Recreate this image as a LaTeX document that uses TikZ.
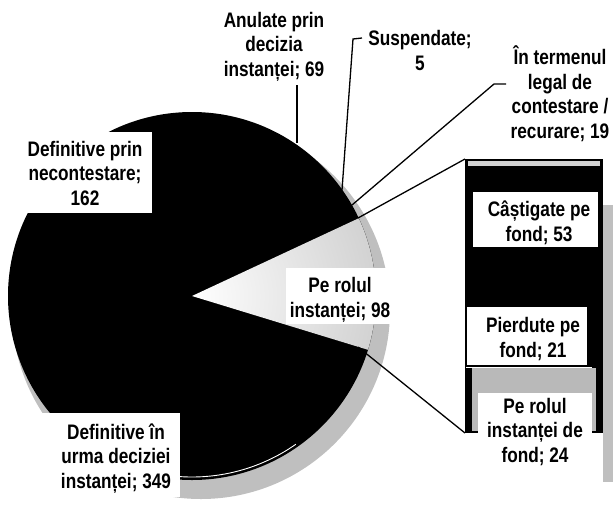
\documentclass[tikz,border=0pt]{standalone}
\usepackage{fontspec}
\setmainfont{Liberation Sans}[FakeStretch=0.82]
\begin{document}
\begin{tikzpicture}[x=1pt,y=-1pt,
  lab/.style={font=\bfseries\fontsize{21}{24.5}\selectfont, align=center, inner sep=0pt, anchor=base},
  leader/.style={line width=1.3pt, black},
  shadowc/.style={fill=gray!50},
  wbox/.style={fill=white}]
\useasboundingbox (0,0) rectangle (613,507);
\coordinate (c) at (192,296);
% shadows
\fill[shadowc] (201,310) circle[radius=189];
\fill[shadowc] (603,205) rectangle (613,482);
% pie
\fill[black] (c) circle[radius=184];
\begin{scope}
  \clip (c) -- ++(-25:184) arc[start angle=-25,end angle=17,radius=184] -- cycle;
  \shade[inner color=white, outer color=gray!70] (c) circle[radius=368];
\end{scope}
\draw[white, line width=0.9pt] (c) ++(94:181) arc[start angle=94,end angle=55,radius=181];
% bar
\fill[black] (465,159) rectangle (603,433);
\fill[gray!35] (468,161) rectangle (600,166);
\fill[gray!55] (472,368) rectangle (596,431);
\draw[white, line width=1pt] (466,367) -- (592,367);
% label boxes
\fill[wbox] (286,268) rectangle (400,324);
\fill[wbox] (17,132) rectangle (152,213);
\fill[wbox] (40,413) rectangle (180,497);
\fill[wbox] (473,192) rectangle (598,247);
\fill[wbox] (467,307) rectangle (587,365);
\fill[wbox] (478,393) rectangle (592,473);
% labels (anchor base = last line)
\node[lab] (anul) at (274,76) {Anulate prin\\decizia\\instanței; 69};
\node[lab] (susp) at (420,70) {Suspendate;\\5};
\node[lab] (term) at (560,138) {În termenul\\legal de\\contestare /\\recurare; 19};
\node[lab] (defn) at (85,205) {Definitive prin\\necontestare;\\162};
\node[lab] (defi) at (116,488) {Definitive în\\urma deciziei\\instanței; 349};
\node[lab] (perol) at (340,317) {Pe rolul\\instanței; 98};
\node[lab] (cast) at (539,241) {Câștigate pe\\fond; 53};
\node[lab] (pierd) at (533,357) {Pierdute pe\\fond; 21};
\node[lab] (pfond) at (535,462) {Pe rolul\\instanței de\\fond; 24};
% leader lines
\coordinate (anulA) at (297,85);
\coordinate (anulB) at (297,143);
\coordinate (suspA) at (362,38);
\coordinate (suspB) at (353,39);
\coordinate (suspC) at (342,190);
\coordinate (termA) at (506,84);
\coordinate (termB) at (494,84);
\coordinate (termC) at (352,205);
\coordinate (wedgeT) at (358,218);
\coordinate (wedgeB) at (358,347);
\coordinate (barTL) at (465,159);
\coordinate (barBL) at (465,433);
\draw[leader] (anulA) -- (anulB);
\draw[leader] (suspA) -- (suspB) -- (suspC);
\draw[leader] (termA) -- (termB) -- (termC);
\draw[leader] (wedgeT) -- (barTL);
\draw[leader] (wedgeB) -- (barBL);
\end{tikzpicture}
\end{document}
